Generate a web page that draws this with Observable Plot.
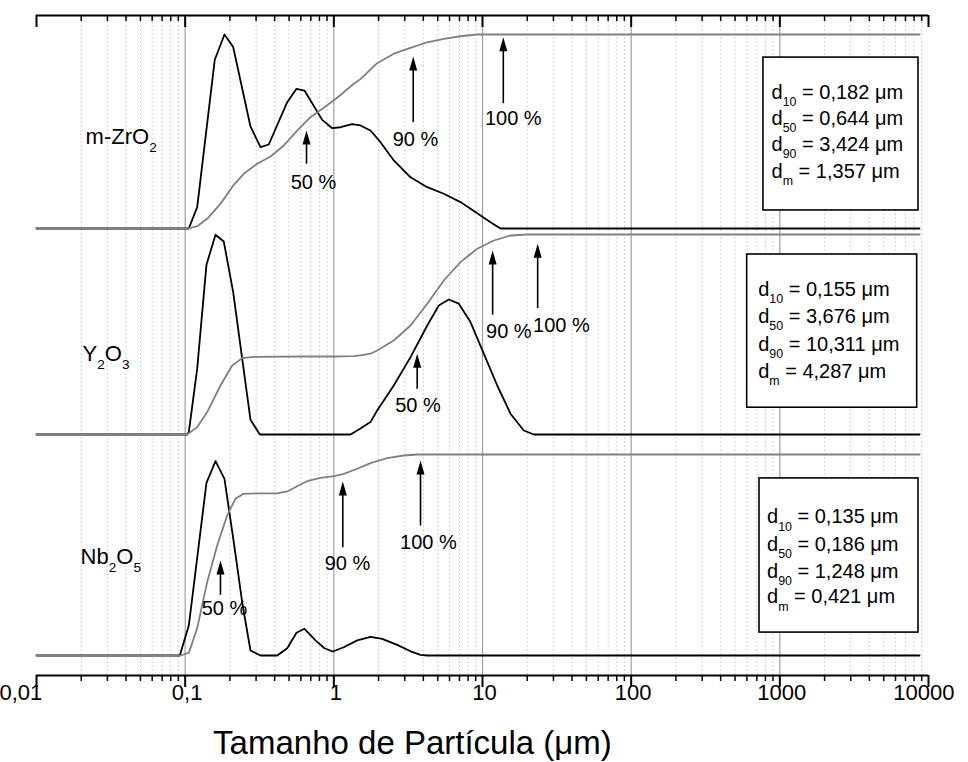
<!DOCTYPE html>
<html><head><meta charset="utf-8">
<script src="https://cdn.jsdelivr.net/npm/d3@7"></script>
<script src="https://cdn.jsdelivr.net/npm/@observablehq/plot@0.6"></script>
<style>body{margin:0;background:#fff} #chart svg{display:block}</style>
</head><body><div id="chart"></div>
<script>
// ---------- data ----------
const samples = ["m-ZrO_{2}", "Y_{2}O_{3}", "Nb_{2}O_{5}"];

// m-ZrO2 : frequency (relative %) and cumulative (%)
const zrFreqSize = [0.01, 0.1058, 0.1205, 0.1582, 0.1838, 0.2104, 0.275, 0.3211, 0.3651, 0.4857, 0.561, 0.6349, 0.835, 0.975, 1.109, 1.329, 1.511, 1.764, 2.06, 2.53, 3.28, 4.25, 5.49, 7.11, 9.21, 11.32, 13.21, 8700];
const zrFreq     = [0, 0, 11.0, 87.0, 100, 93.5, 52.6, 41.9, 43.3, 65.1, 72.0, 71.1, 56.0, 51.7, 52.2, 53.8, 53.1, 50.5, 44.5, 35.1, 26.4, 21.3, 17.9, 13.6, 7.9, 3.2, 0, 0];
const zrCumSize  = [0.01, 0.1058, 0.1205, 0.1406, 0.1728, 0.2123, 0.2479, 0.3051, 0.375, 0.4607, 0.567, 0.6966, 0.856, 1.053, 1.362, 1.511, 1.957, 2.53, 3.28, 4.25, 5.49, 7.11, 9.21, 8700];
const zrCum      = [0, 0, 1.2, 5.0, 12.7, 22.5, 28.2, 33.4, 37.1, 42.8, 50.5, 57.4, 62.2, 67.4, 74.6, 77.0, 85.2, 90.1, 93.1, 96.0, 97.8, 99.1, 100, 100];

// Y2O3
const yFreqSize = [0.01, 0.1032, 0.1058, 0.1205, 0.1391, 0.16, 0.1818, 0.2104, 0.2418, 0.275, 0.3177, 1.295, 1.511, 1.764, 1.957, 2.53, 3.28, 4.25, 5.08, 5.93, 6.93, 8.30, 10.2, 12.56, 15.43, 18.96, 22.13, 8700];
const yFreq     = [0, 0, 1.2, 32.9, 84.9, 99.9, 96.5, 71.2, 37.9, 7.4, 0, 0, 3.0, 6.2, 12.0, 24.5, 38.7, 54.5, 64.5, 67.5, 65.4, 56.2, 40.4, 24.5, 10.4, 2.0, 0, 0];
const yCumSize  = [0.01, 0.1032, 0.1205, 0.1406, 0.1728, 0.2072, 0.2418, 0.2894, 0.628, 1.0, 1.362, 1.511, 1.764, 1.957, 2.53, 3.28, 4.25, 5.49, 7.11, 9.21, 11.91, 15.43, 19.98, 8700];
const yCum      = [0, 0, 3.7, 11.2, 24.5, 34.5, 38.2, 38.8, 39.0, 39.0, 39.2, 39.6, 40.4, 42.0, 47.0, 54.5, 65.4, 77.0, 86.2, 92.9, 97.0, 99.5, 100, 100];

// Nb2O5
const nbFreqSize = [0.01, 0.092, 0.1058, 0.1391, 0.16, 0.1838, 0.2123, 0.2418, 0.275, 0.3211, 0.4159, 0.4857, 0.561, 0.6349, 0.7526, 0.865, 0.984, 1.167, 1.436, 1.764, 2.115, 2.668, 3.28, 3.828, 4.25, 8700];
const nbFreq     = [0, 0, 14.9, 85.9, 96.7, 87.9, 56.4, 26.5, 2.5, 0, 0, 3.6, 11.3, 13.3, 7.5, 3.6, 2.0, 4.1, 7.5, 9.3, 8.3, 5.3, 2.1, 0.3, 0, 0];
const nbCumSize  = [0.01, 0.093, 0.1058, 0.1205, 0.1406, 0.1642, 0.1917, 0.2181, 0.2456, 0.3051, 0.4159, 0.4857, 0.567, 0.6618, 0.8135, 1.0, 1.167, 1.436, 1.764, 2.285, 2.955, 3.637, 8700];
const nbCum      = [0, 0, 1.3, 13.6, 36.5, 54.7, 69.7, 78.0, 80.4, 80.7, 80.7, 81.6, 84.2, 86.7, 88.4, 89.2, 90.4, 92.9, 95.7, 98.2, 99.5, 100, 100];

// arrows (x in µm, tail / tip in % of panel) and their labels
const arrowLabels = ["50 %", "90 %", "100 %"];
const zrArrowX = [0.655, 3.42, 13.8],  zrArrowTail = [33.4, 54.8, 64.6], zrArrowTip = [50.5, 88.7, 98.6];
const zrLabelX = [0.730, 3.54, 16.11], zrLabelY = [23.9, 45.7, 56.5];
const yArrowX  = [3.637, 11.7, 23.5],  yArrowTail  = [22.9, 59.9, 63.2], yArrowTip  = [40.4, 92.0, 95.4];
const yLabelX  = [3.68, 15.03, 33.98], yLabelY  = [14.5, 51.5, 54.5];
const nbArrowX = [0.1728, 1.149, 3.828], nbArrowTail = [30.2, 53.9, 64.7], nbArrowTip = [47.3, 86.6, 97.0];
const nbLabelX = [0.1838, 1.2355, 4.33], nbLabelY = [23.2, 45.6, 56.4];

// statistics boxes
const zrStats = ["d_{10} = 0,182 μm", "d_{50} = 0,644 μm", "d_{90} = 3,424 μm", "d_{m} = 1,357 μm"];
const yStats  = ["d_{10} = 0,155 μm", "d_{50} = 3,676 μm", "d_{90} = 10,311 μm", "d_{m} = 4,287 μm"];
const nbStats = ["d_{10} = 0,135 μm", "d_{50} = 0,186 μm", "d_{90} = 1,248 μm", "d_{m} = 0,421 μm"];

// axis
const tickValues = [0.01, 0.1, 1, 10, 100, 1000, 10000];
const tickLabels = ["0,01", "0,1", "1", "10", "100", "1000", "10000"];
const xTitle = "Tamanho de Partícula (μm)";

// ---------- layout (panel placement inside a pixel-unit y scale) ----------
const panelBase = [447, 241, 20];
const panelSpan = [194, 200, 201];
const fy = (s, v) => panelBase[s] + v * panelSpan[s] / 100;

const freqSets = [[zrFreqSize, zrFreq], [yFreqSize, yFreq], [nbFreqSize, nbFreq]];
const cumSets  = [[zrCumSize, zrCum], [yCumSize, yCum], [nbCumSize, nbCum]];
const freqRows = freqSets.flatMap(([xs, vs], s) => xs.map((x, i) => ({x, v: vs[i], s})));
const cumRows  = cumSets.flatMap(([xs, vs], s) => xs.map((x, i) => ({x, v: vs[i], s})));

const arrowSets = [
  [zrArrowX, zrArrowTail, zrArrowTip, zrLabelX, zrLabelY],
  [yArrowX, yArrowTail, yArrowTip, yLabelX, yLabelY],
  [nbArrowX, nbArrowTail, nbArrowTip, nbLabelX, nbLabelY]
];
const arrows = arrowSets.flatMap(([ax, at, ap, lx, ly], s) =>
  ax.map((x, i) => ({s, x, tail: at[i], tip: ap[i], lx: lx[i], ly: ly[i], label: arrowLabels[i]})));

const boxes = [
  {s: 0, x1: 776, x2: 8563, y1: 9.3, y2: 88.1},
  {s: 1, x1: 603, x2: 8392, y1: 13.4, y2: 90},
  {s: 2, x1: 730, x2: 8563, y1: 11.4, y2: 88.1}
];
const statSets = [zrStats, yStats, nbStats];
const statPos = [
  {x: 880, y: [67.0, 53.5, 39.9, 26.2]},
  {x: 715, y: [69.5, 55.7, 42.0, 28.2]},
  {x: 820, y: [65.7, 52.2, 38.8, 25.9]}
];
const statRows = statSets.flatMap((lines, s) => lines.map((t, i) => ({s, t, x: statPos[s].x, v: statPos[s].y[i]})));

const nameRows = [
  {s: 0, x: 0.0214, v: 43.7},
  {s: 1, x: 0.0204, v: 36.7},
  {s: 2, x: 0.0198, v: 45.5}
].map(d => ({...d, t: samples[d.s]}));

const majors = tickValues;
const minors = d3.range(-2, 4).flatMap(k => d3.range(2, 10).map(m => m * 10 ** k));
const innerMajors = tickValues.slice(1, -1);
const tickRows = tickValues.map((x, i) => ({x, t: tickLabels[i], i}));

const arrowHead = {draw(ctx) { ctx.moveTo(0, 0); ctx.lineTo(4, 14); ctx.lineTo(-4, 14); ctx.closePath(); }};

const font = "'Liberation Sans', Arial, Helvetica, sans-serif";

const plot = Plot.plot({
  width: 968, height: 762,
  marginLeft: 36, marginRight: 40, marginTop: 15, marginBottom: 87,
  x: {type: "log", domain: [0.01, 10000], axis: null},
  y: {domain: [0, 660], axis: null},
  style: {fontFamily: font, background: "white", overflow: "visible"},
  marks: [
    Plot.ruleX(minors, {x: d => d, y1: 0, y2: 660, stroke: "#c4c4c4", strokeWidth: 1, strokeDasharray: "1.5,2.5"}),
    Plot.ruleX(innerMajors, {x: d => d, y1: 0, y2: 660, stroke: "#a0a0a0", strokeWidth: 1.2}),
    Plot.rect(boxes, {x1: "x1", x2: "x2", y1: d => fy(d.s, d.y1), y2: d => fy(d.s, d.y2), fill: "white", stroke: "black", strokeWidth: 1.6}),
    Plot.line(freqRows, {x: "x", y: d => fy(d.s, d.v), z: "s", stroke: "black", strokeWidth: 1.8}),
    Plot.line(cumRows, {x: "x", y: d => fy(d.s, d.v), z: "s", stroke: "#808080", strokeWidth: 1.8}),
    Plot.link(arrows, {x1: "x", x2: "x", y1: d => fy(d.s, d.tail), y2: d => fy(d.s, d.tip) - 8, stroke: "black", strokeWidth: 1.6}),
    Plot.dot(arrows, {x: "x", y: d => fy(d.s, d.tip), symbol: arrowHead, fill: "black", stroke: "none"}),
    Plot.text(arrows, {x: "lx", y: d => fy(d.s, d.ly), text: "label", fontSize: 20, fill: "black"}),
    Plot.text(statRows, {x: "x", y: d => fy(d.s, d.v), text: "t", textAnchor: "start", lineAnchor: "bottom", fontSize: 20, fill: "black"}),
    Plot.text(nameRows, {x: "x", y: d => fy(d.s, d.v), text: "t", textAnchor: "start", lineAnchor: "bottom", fontSize: 22, fill: "black"}),
    // frame lines and ticks
    Plot.ruleY([660, 0], {x1: 0.01, x2: 10000, y: d => d, stroke: "black", strokeWidth: 2}),
    Plot.ruleX(majors, {x: d => d, y1: 660, y2: 648, stroke: "black", strokeWidth: 2}),
    Plot.ruleX(minors, {x: d => d, y1: 660, y2: 654, stroke: "black", strokeWidth: 1.5}),
    Plot.ruleX(majors, {x: d => d, y1: 0, y2: -12, stroke: "black", strokeWidth: 2}),
    Plot.ruleX(minors, {x: d => d, y1: 0, y2: -6, stroke: "black", strokeWidth: 1.5}),
    Plot.text(tickRows.filter(d => d.i === 0), {x: "x", y: -24, text: "t", lineAnchor: "bottom", textAnchor: "start", dx: -37, fontSize: 22, fill: "black"}),
    Plot.text(tickRows.filter(d => d.i > 0 && d.i < 6), {x: "x", y: -24, text: "t", lineAnchor: "bottom", dx: 2, fontSize: 22, fill: "black"}),
    Plot.text(tickRows.filter(d => d.i === 6), {x: "x", y: -24, text: "t", lineAnchor: "bottom", textAnchor: "end", dx: 26, fontSize: 22, fill: "black"}),
    Plot.text([xTitle], {x: 3.38, y: -78, text: d => d, lineAnchor: "bottom", fontSize: 33, fill: "black"})
  ]
});

document.getElementById("chart").appendChild(plot);

// subscripts: "_{...}" -> lowered smaller tspan
const ns = "http://www.w3.org/2000/svg";
plot.querySelectorAll("text").forEach(t => {
  const s = t.textContent;
  if (!s.includes("_{")) return;
  const fs = parseFloat(getComputedStyle(t).fontSize) || 20;
  const parts = s.split(/_\{([^}]*)\}/);
  t.textContent = "";
  let shifted = false;
  parts.forEach((p, i) => {
    if (!p) return;
    const ts = document.createElementNS(ns, "tspan");
    ts.textContent = p;
    if (i % 2) {
      ts.setAttribute("font-size", (fs * 0.62).toFixed(1));
      if (!shifted) ts.setAttribute("dy", (fs * 0.36).toFixed(1));
      shifted = true;
    } else if (shifted) {
      ts.setAttribute("dy", (-fs * 0.36).toFixed(1));
      shifted = false;
    }
    t.appendChild(ts);
  });
});
</script>
</body></html>
